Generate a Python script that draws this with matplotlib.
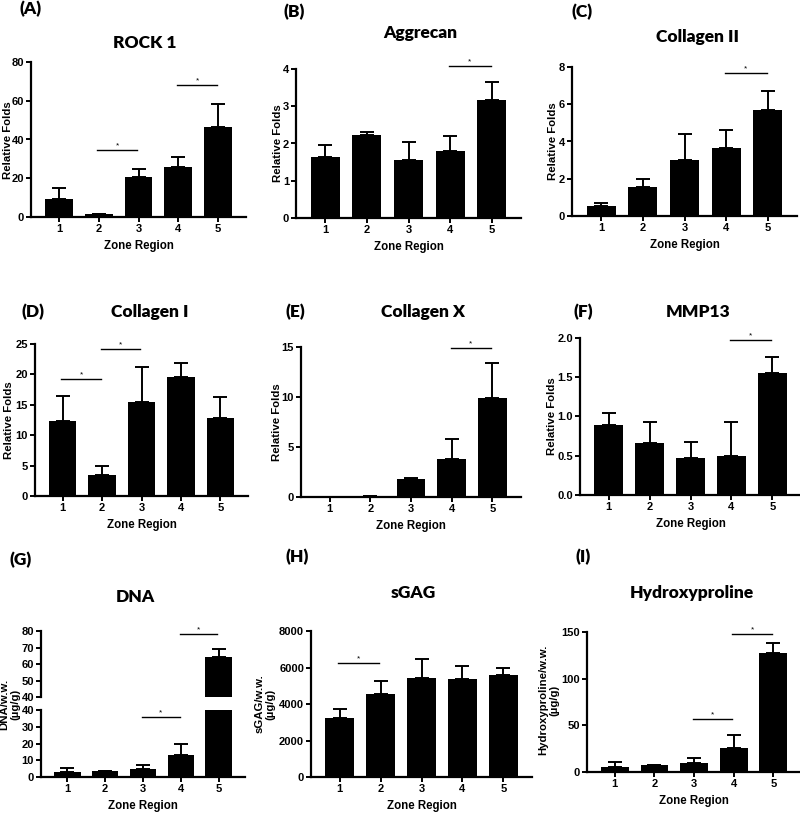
import matplotlib
matplotlib.use("Agg")
import matplotlib.pyplot as plt
import numpy as np

# ---------------- data ----------------
zones = ["1", "2", "3", "4", "5"]

rock1_mean = [9.5, 1.5, 20.5, 26.0, 46.5]
rock1_err = [5.5, 0.3, 4.5, 5.0, 12.0]

aggrecan_mean = [1.65, 2.22, 1.55, 1.80, 3.18]
aggrecan_err = [0.30, 0.08, 0.48, 0.40, 0.47]

col2_mean = [0.55, 1.58, 3.00, 3.63, 5.70]
col2_err = [0.15, 0.39, 1.38, 1.00, 1.03]

col1_mean = [12.3, 3.5, 15.4, 19.5, 12.9]
col1_err = [4.1, 1.4, 5.8, 2.3, 3.4]

col10_mean = [0.05, 0.10, 1.80, 3.80, 9.90]
col10_err = [0.0, 0.0, 0.10, 2.00, 3.50]

mmp13_mean = [0.89, 0.66, 0.47, 0.50, 1.56]
mmp13_err = [0.16, 0.27, 0.21, 0.43, 0.20]

dna_mean = [3.0, 3.5, 5.0, 13.0, 64.0]
dna_err = [2.2, 0.2, 2.3, 6.8, 5.0]

sgag_mean = [3250, 4570, 5400, 5350, 5570]
sgag_err = [450, 680, 1050, 730, 380]

hyp_mean = [5.5, 7.0, 10.0, 26.0, 127.0]
hyp_err = [5.0, 0.5, 5.0, 14.0, 11.0]

# significance brackets: (zone i, zone j, height)
rock1_sig = [(2, 3, 34.4), (4, 5, 68.3)]
aggrecan_sig = [(4, 5, 4.09)]
col2_sig = [(4, 5, 7.68)]
col1_sig = [(1, 2, 19.3), (2, 3, 24.2)]
col10_sig = [(4, 5, 14.9)]
mmp13_sig = [(4, 5, 1.97)]
dna_sig_low = [(3, 4, 36.0)]
dna_sig_high = [(4, 5, 78.2)]
sgag_sig = [(1, 2, 6224)]
hyp_sig = [(3, 4, 57.0), (4, 5, 147.5)]

# ---------------- style ----------------
W, H = 800, 813
TICKFONT = "Liberation Sans"
TITLEFONT = "Lato"
fig = plt.figure(figsize=(W / 100, H / 100), dpi=100)


def add_ax(l, t, r, b):
    return fig.add_axes([l / W, 1 - b / H, (r - l) / W, (b - t) / H])


def style(ax, ylim, yticks, ytl=None, xlabel=True, bottom=True):
    ax.set_xlim(0.3, 5.7)
    ax.set_ylim(*ylim)
    ax.set_yticks(yticks)
    if ytl is not None:
        ax.set_yticklabels(ytl)
    for s in ["top", "right"]:
        ax.spines[s].set_visible(False)
    for s in ["left", "bottom"]:
        ax.spines[s].set_linewidth(1.6)
    ax.tick_params(axis="both", direction="out", length=3.5, width=1.4,
                   labelsize=8, pad=1.5)
    for lab in ax.get_xticklabels() + ax.get_yticklabels():
        lab.set_fontfamily(TICKFONT)
        lab.set_fontweight("bold")
    if bottom:
        ax.set_xticks(range(1, 6))
        ax.set_xticklabels(zones, fontfamily=TICKFONT, fontweight="bold",
                           fontsize=8)
    else:
        ax.spines["bottom"].set_visible(False)
        ax.set_xticks([])
    if xlabel:
        ax.set_xlabel("Zone Region", fontfamily=TICKFONT, fontweight="bold",
                      fontsize=8.3, labelpad=4.5)


def bars(ax, mean, err):
    x = np.arange(1, 6)
    ax.bar(x, mean, width=0.7, color="black", zorder=2)
    ax.errorbar(x, mean, yerr=[np.zeros(5), err], fmt="none", ecolor="black",
                elinewidth=1.4, capsize=5, capthick=1.4, zorder=3)


def sig(ax, items):
    for i, j, y in items:
        ax.plot([i - 0.03, j - 0.03], [y, y], color="black", lw=1.0,
                clip_on=False, zorder=4)
        ax.annotate("*", xy=((i + j) / 2 - 0.03, y), xytext=(0, 0.5),
                    textcoords="offset points", ha="center", va="bottom",
                    fontsize=6, fontfamily=TICKFONT, annotation_clip=False)


def title(cx, cy, text):
    fig.text(cx / W, 1 - cy / H, text, ha="center", va="center",
             fontfamily=TITLEFONT, fontweight="heavy", fontsize=12.5)


def plabel(lx, cy, text):
    fig.text(lx / W, 1 - cy / H, text, ha="left", va="center",
             fontfamily=TITLEFONT, fontweight="heavy", fontsize=12.5)


def ylab(cx, cy, text):
    fig.text(cx / W, 1 - cy / H, text, ha="center", va="center", rotation=90,
             fontfamily=TICKFONT, fontweight="bold", fontsize=8.2,
             multialignment="center", linespacing=1.1)


# ---------------- panels ----------------
# A
ax = add_ax(31, 62, 246, 217)
bars(ax, rock1_mean, rock1_err)
style(ax, (0, 80), [0, 20, 40, 60, 80])
sig(ax, rock1_sig)
ylab(8, 140, "Relative Folds")
title(145, 43, "ROCK 1")
plabel(19, 9, "(A)")

# B
ax = add_ax(296, 69, 521, 218)
bars(ax, aggrecan_mean, aggrecan_err)
style(ax, (0, 4), [0, 1, 2, 3, 4])
sig(ax, aggrecan_sig)
ylab(278, 143, "Relative Folds")
title(420, 33, "Aggrecan")
plabel(284, 12, "(B)")

# C
ax = add_ax(572, 67, 797, 216)
bars(ax, col2_mean, col2_err)
style(ax, (0, 8), [0, 2, 4, 6, 8])
sig(ax, col2_sig)
ylab(553, 141, "Relative Folds")
title(697, 37, "Collagen II")
plabel(572, 12, "(C)")

# D
ax = add_ax(35, 344, 248, 496)
bars(ax, col1_mean, col1_err)
style(ax, (0, 25), [0, 5, 10, 15, 20, 25])
sig(ax, col1_sig)
ylab(9, 420, "Relative Folds")
title(150, 312, "Collagen I")
plabel(21, 312, "(D)")

# E
ax = add_ax(301, 347, 521, 497)
bars(ax, col10_mean, col10_err)
style(ax, (0, 15), [0, 5, 10, 15])
sig(ax, col10_sig)
ylab(277, 422, "Relative Folds")
title(423, 312, "Collagen X")
plabel(286, 312, "(E)")

# F
ax = add_ax(580, 338, 801, 495)
bars(ax, mmp13_mean, mmp13_err)
style(ax, (0, 2.0), [0.0, 0.5, 1.0, 1.5, 2.0],
      ["0.0", "0.5", "1.0", "1.5", "2.0"])
sig(ax, mmp13_sig)
ylab(552, 416, "Relative Folds")
title(698, 312, "MMP13")
plabel(574, 312, "(F)")

# G (broken axis)
axu = add_ax(41, 631, 245, 697)
bars(axu, dna_mean, dna_err)
style(axu, (40, 80), [40, 50, 60, 70, 80], xlabel=False, bottom=False)
sig(axu, dna_sig_high)
axl = add_ax(41, 710, 245, 777)
bars(axl, dna_mean, dna_err)
style(axl, (0, 40), [0, 10, 20, 30, 40])
sig(axl, dna_sig_low)
ylab(10, 704, "DNA/w.w.\n(µg/g)")
title(135, 597, "DNA")
plabel(9, 560, "(G)")

# H
ax = add_ax(311, 631, 532, 777)
bars(ax, sgag_mean, sgag_err)
style(ax, (0, 8000), [0, 2000, 4000, 6000, 8000])
sig(ax, sgag_sig)
ylab(265, 704, "sGAG/w.w.\n(µg/g)")
title(413, 593, "sGAG")
plabel(285, 557, "(H)")

# I
ax = add_ax(587, 632, 801, 772)
bars(ax, hyp_mean, hyp_err)
style(ax, (0, 150), [0, 50, 100, 150])
sig(ax, hyp_sig)
ylab(549, 700, "Hydroxyproline/w.w.\n(µg/g)")
title(692, 593, "Hydroxyproline")
plabel(575, 557, "(I)")

fig.savefig("out.png", dpi=100)
